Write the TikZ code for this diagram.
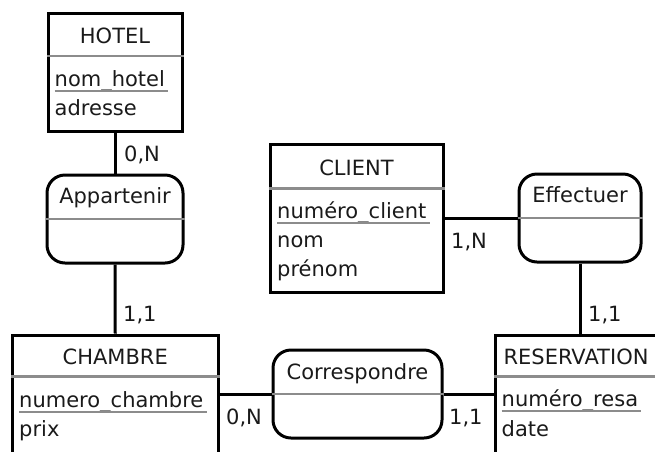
\documentclass[tikz,border=0pt]{standalone}
\usepackage{fontspec}
\setmainfont{DejaVu Sans}
\usetikzlibrary{calc}
\definecolor{inkc}{HTML}{1A1A1A}
\definecolor{rulec}{HTML}{8C8C8C}
\begin{document}
\begin{tikzpicture}[x=1pt,y=-1pt,
  font=\fontsize{21}{28}\selectfont, text=inkc,
  entity/.style={draw=black, line width=3pt, inner sep=0pt, minimum width=#1},
  relation/.style={draw=black, line width=3pt, rounded corners=18pt, inner sep=0pt,
                   minimum height=88pt, minimum width=#1},
  divider/.style={draw=rulec, line width=2.2pt},
  keyline/.style={draw=rulec, line width=2pt},
  link/.style={draw=black, line width=3pt},
  title/.style={anchor=base, inner sep=0pt},
  attr/.style={anchor=base west, inner sep=0pt},
  card/.style={anchor=base west, inner sep=0pt}]
\useasboundingbox (0,0) rectangle (655,451);
\clip (0,0) rectangle (655,451);

% ---------- entities ----------
\node[entity=134pt, minimum height=118pt] (hotel)  at (115,72.5) {};
\node[entity=173pt, minimum height=148pt] (client) at (356.5,218) {};
\node[entity=205.5pt, minimum height=140pt] (chambre) at (115.25,405) {};
\node[entity=162pt, minimum height=140pt] (resa)   at (576,405) {};

% ---------- relations ----------
\node[relation=136pt] (appart) at (115,219) {};
\node[relation=122pt] (effect) at (580,218) {};
\node[relation=169pt] (corresp) at (357.5,394) {};

% ---------- dividers ----------
\foreach \n/\d in {hotel/44, client/46, chambre/43, resa/43}{
  \draw[divider] ([yshift=-\d pt]\n.north west) -- ([yshift=-\d pt]\n.north east);
}
\foreach \n in {appart, effect, corresp}{
  \draw[divider] (\n.west) -- (\n.east);
}

% ---------- entity titles ----------
\node[title] (thotel)   at ([yshift=-31pt]hotel.north)   {HOTEL};
\node[title] (tclient)  at ([yshift=-33pt]client.north)  {CLIENT};
\node[title] (tchambre) at ([yshift=-31pt]chambre.north) {CHAMBRE};
\node[title] (tresa)    at ([yshift=-31pt]resa.north)    {RESERVATION};

% ---------- relation titles ----------
\node[title] (tappart)  at ([yshift=-29.5pt]appart.north)  {Appartenir};
\node[title] (teffect)  at ([yshift=-29.5pt]effect.north)  {Effectuer};
\node[title] (tcorresp) at ([yshift=-31pt]corresp.north)   {Correspondre};

% ---------- attributes ----------
\node[attr] (khotel) at ($(hotel.north west)+(8,74)$) {nom\_hotel};
\node[attr] (ahotel) at ($(hotel.north west)+(8,103.5)$) {adresse};

\node[attr] (kclient) at ($(client.north west)+(8.5,76)$) {numéro\_client};
\node[attr] (aclient1) at ($(client.north west)+(8.5,105)$) {nom};
\node[attr] (aclient2) at ($(client.north west)+(8.5,133.5)$) {prénom};

\node[attr] (kchambre) at ($(chambre.north west)+(8,74)$) {numero\_chambre};
\node[attr] (achambre) at ($(chambre.north west)+(8,102.5)$) {prix};

\node[attr] (kresa) at ($(resa.north west)+(8,72.5)$) {numéro\_resa};
\node[attr] (aresa) at ($(resa.north west)+(8,102.5)$) {date};

% ---------- key underlines ----------
\foreach \k in {khotel, kclient, kchambre, kresa}{
  \draw[keyline] ([yshift=-4.5pt]\k.base west) -- ([xshift=3pt,yshift=-4.5pt]\k.base east);
}

% ---------- connectors ----------
\draw[link] (hotel.south) -- (appart.north);
\draw[link] (appart.south) -- (chambre.north);
\draw[link] (client.east) -- (effect.west);
\draw[link] (effect.south) -- (effect.south |- resa.north);
\draw[link] (chambre.east |- corresp.west) -- (corresp.west);
\draw[link] (corresp.east) -- (resa.west |- corresp.east);

% ---------- cardinalities ----------
\node[card] (c1) at (124,161) {0,N};
\node[card] (c2) at (123,321) {1,1};
\node[card] (c3) at (451,248) {1,N};
\node[card] (c4) at (588,321) {1,1};
\node[card] (c5) at (226,424) {0,N};
\node[card] (c6) at (449,424) {1,1};
\end{tikzpicture}
\end{document}
